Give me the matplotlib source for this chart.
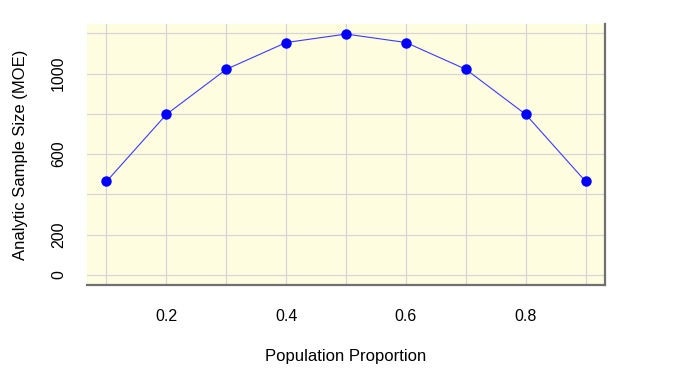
import matplotlib
matplotlib.use("Agg")
import matplotlib.pyplot as plt

# data
proportion = [0.1, 0.2, 0.3, 0.4, 0.5, 0.6, 0.7, 0.8, 0.9]
sample_size = [464, 797, 1021, 1154, 1196, 1154, 1021, 797, 464]

x_major = [0.2, 0.4, 0.6, 0.8]
x_minor = [0.1, 0.3, 0.5, 0.7, 0.9]
y_major = [0, 200, 600, 1000]
y_minor = [400, 800, 1200]

plt.rcParams['font.family'] = ['Liberation Sans', 'DejaVu Sans']

fig = plt.figure(figsize=(6.82, 3.76), dpi=100)
ax = fig.add_axes([0.1276, 0.242, 0.7588, 0.6942])
ax.set_facecolor('#fffde0')

ax.plot(proportion, sample_size, color='#3a3aff', linewidth=0.8,
        marker='o', markersize=6.5, markerfacecolor='#0000ff',
        markeredgecolor='#0000ff', zorder=3)

ax.set_xlim(0.0675, 0.9315)
ax.set_ylim(-50, 1246)

ax.set_xticks(x_major)
ax.set_xticks(x_minor, minor=True)
ax.set_yticks(y_major)
ax.set_yticks(y_minor, minor=True)
ax.set_xticklabels([str(v) for v in x_major])
ax.set_yticklabels([str(v) for v in y_major], rotation=90, va='center')

ax.grid(True, which='both', color='#d6d6d6', linewidth=0.9, zorder=0)
ax.set_axisbelow(True)

ax.tick_params(axis='both', which='both', length=0, labelsize=11.5)
ax.tick_params(axis='x', pad=17)
ax.tick_params(axis='y', pad=15)

for side in ['left', 'top']:
    ax.spines[side].set_visible(False)
for side in ['right', 'bottom']:
    ax.spines[side].set_color('#707070')
    ax.spines[side].set_linewidth(1.6)

ax.set_xlabel('Population Proportion', fontsize=12, labelpad=18)
ax.set_ylabel('Analytic Sample Size (MOE)', fontsize=12, labelpad=17)

fig.savefig('out.png', dpi=100)
